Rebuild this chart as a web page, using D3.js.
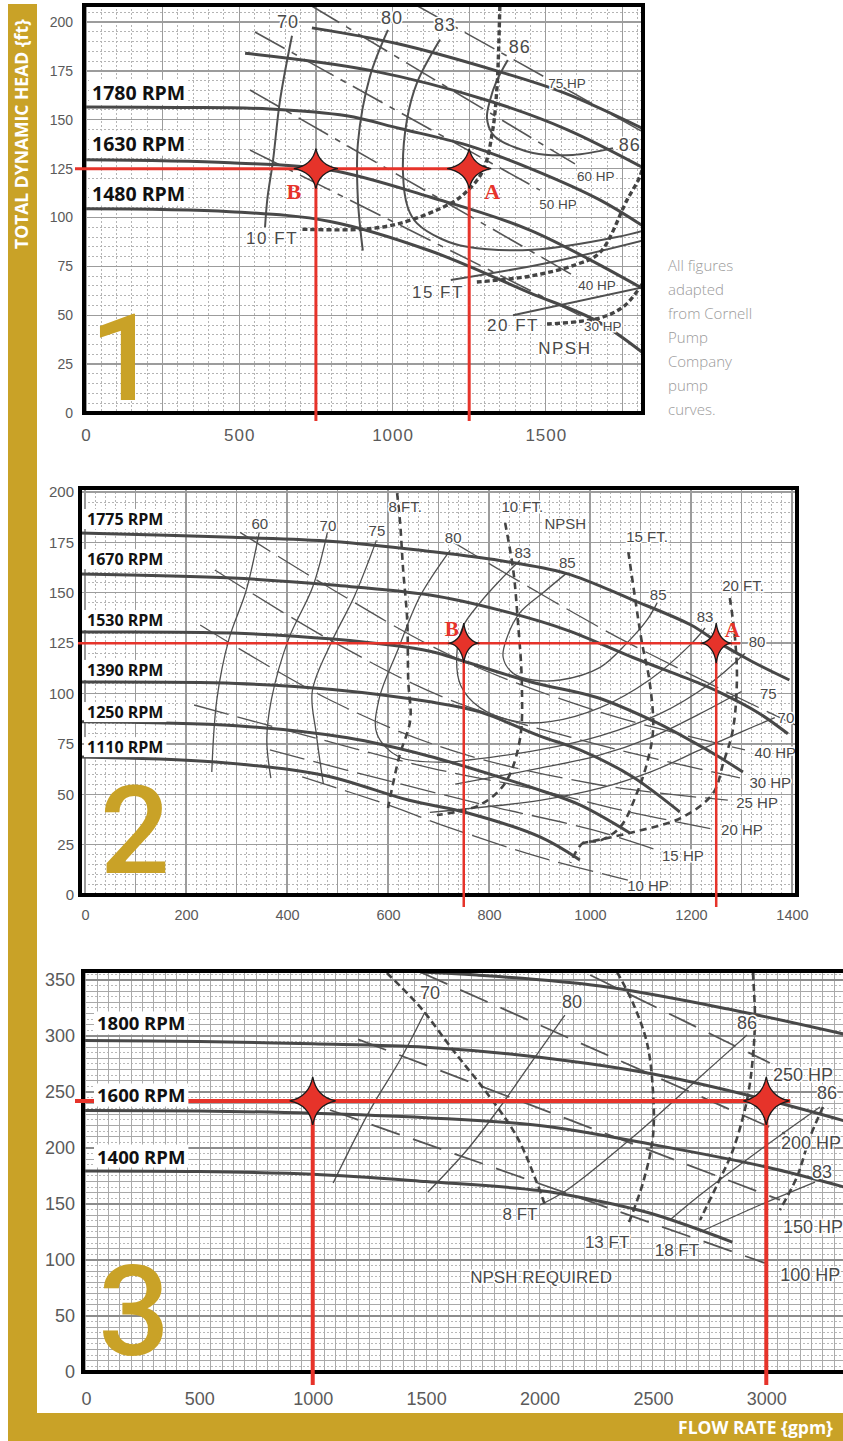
<!DOCTYPE html>
<html><head><meta charset="utf-8">
<script src="https://cdn.jsdelivr.net/npm/d3@7"></script>
<style>html,body{margin:0;padding:0;background:#fff}svg{display:block}</style>
</head><body>
<svg id="c" width="843" height="1441"></svg>
<script>
// ================= DATA =================
// ---- Panel 1 (flow gpm, head ft) ----
const p1FlowTicks = [0, 500, 1000, 1500];
const p1HeadTicks = [0, 25, 50, 75, 100, 125, 150, 175, 200];
const p1RpmNames = ["1780 RPM", "1630 RPM", "1480 RPM"];
const p1RpmLabelHead = [164, 138, 112.5];
const p1Rpm1780 = [[-6,156.5],[300,156.3],[600,155.5],[850,152],[1024,145.5],[1243,137],[1458,124.5],[1676,109],[1823,95]];
const p1Rpm1630 = [[-6,129.5],[470,128],[796,124.3],[1122,110.5],[1448,93.6],[1823,63]];
const p1Rpm1480 = [[-6,104.5],[470,103],[796,98],[1122,83],[1448,61.5],[1667,47],[1823,30]];
const p1HeadTop = [[737,197],[1014,189],[1340,175],[1556,164],[1823,145]];
const p1HeadUpper = [[519,184],[936,175],[1308,160],[1569,145],[1823,125]];
const p1Eff70 = [[672,193],[633,160],[610,129],[592,110],[584,95]];
const p1Eff80 = [[985,196],[926,172],[887,138],[887,109],[903,83]];
const p1Eff83 = [[1155,191],[1080,169],[1047,150],[1034,123],[1050,105],[1080,97],[1160,89],[1243,85],[1458,83.5],[1732,90],[1823,93.5]];
const p1Eff86 = [[1376,180.6],[1340,170],[1318,160],[1308,151],[1325,143],[1350,139.5],[1458,133],[1588,132],[1719,135.5]];
const p1Eff80R = [[1190,68],[1513,77],[1823,88.5]];
const p1Eff70R = [[1393,50],[1823,64.5]];
const p1Npsh10 = [[1350,208],[1345,181],[1340,165],[1327,145],[1295,124],[1240,113],[1187,107],[1024,97],[900,94],[700,94]];
const p1Npsh15 = [[1275,67],[1448,70],[1600,76],[1676,82],[1765,109],[1807,121],[1823,130]];
const p1Npsh20 = [[1504,45.5],[1676,48.6],[1758,55],[1823,68]];
const p1Hp75 = [[1076,208.7],[1823,143.2]];
const p1Hp60 = [[731,208.7],[1595,127.4]];
const p1Hp50 = [[551,194.9],[1481,114]];
const p1Hp40 = [[535,165.2],[1605,69]];
const p1Hp30 = [[535,134.5],[1628,48.6]];
const p1EffLabels = [["70",659,200],["80",998,202],["83",1171,198.5],["86",1415,187.2],["86",1774,137]];
const p1HpLabels = [["75 HP",1569,168.8],["60 HP",1663,121.2],["50 HP",1540,106.9],["40 HP",1667,65],["30 HP",1686,44.5]];
const p1NpshLabels = [["10 FT",607,89.5],["15 FT",1148,61.4],["20 FT",1393,45],["NPSH",1562,33.2]];
const p1PointA = [1250, 125];
const p1PointB = [750, 125];

// ---- Panel 2 ----
const p2FlowTicks = [0, 200, 400, 600, 800, 1000, 1200, 1400];
const p2HeadTicks = [0, 25, 50, 75, 100, 125, 150, 175, 200];
const p2RpmNames = ["1775 RPM", "1670 RPM", "1530 RPM", "1390 RPM", "1250 RPM", "1110 RPM"];
const p2RpmLabelHead = [186.6, 166.7, 136.5, 111.7, 90.8, 73.4];
const p2Rpm1775 = [[-10,179.7],[293,177.5],[491,175.5],[683,170.5],[821,166],[954,159.5],[1084,146.5],[1200,134],[1250,126],[1320,116],[1395,106.7]];
const p2Rpm1670 = [[-10,159.3],[293,157.3],[491,153.8],[683,148.9],[821,141.4],[954,131.5],[1084,118],[1217,105],[1256,100.7],[1333,90.5],[1392,80]];
const p2Rpm1530 = [[-10,130.5],[293,130],[491,127],[683,121],[756,115.5],[887,105.5],[1014,98],[1128,86],[1204,76],[1256,68.5],[1303,61]];
const p2Rpm1390 = [[-10,105.7],[300,105],[490,102],[680,96],[780,91],[900,79],[980,72],[1085,58.6],[1178,41.2]];
const p2Rpm1250 = [[-10,86],[300,84],[520,78],[680,69],[840,57],[901,52],[980,44.7],[1079,30.8]];
const p2Rpm1110 = [[-10,68.5],[258,66],[470,59.6],[642,47],[758,40.7],[901,28.8],[980,17.4]];
const p2Eff60 = [[345,180],[319,151],[285,127],[261,97],[251,61]];
const p2Eff70 = [[480,180],[451,153],[403,127],[369,97],[360,77],[368,58]];
const p2Eff75 = [[577,176],[533,148],[487,125],[450,101],[458,80],[472,55]];
const p2Eff80 = [[723,171],[663,148],[620,122],[582,97],[578,80],[622,68.5],[717,66],[760,67],[899,72],[1020,79],[1139,90],[1238,105],[1307,120]];
const p2Eff83 = [[861,166],[821,156],[782,145],[748,133],[736,118],[744,104],[782,93],[856,86],[921,86],[1020,93],[1119,107],[1198,124],[1228,132.5]];
const p2Eff85 = [[955,160],[907,150],[861,140],[836,128],[828,118],[848,110],[887,106.7],[941,106.7],[1020,113],[1073,125],[1113,136.5],[1133,145]];
const p2Eff75R = [[733,55],[901,63],[1014,69],[1119,78],[1218,90],[1300,101]];
const p2Eff70R = [[683,41],[901,47],[1020,53],[1119,61],[1218,72],[1300,81],[1366,88]];
const p2Npsh8 = [[618,199.5],[624,184.6],[630,161.3],[638,136.5],[640,106.7],[644,86.8],[622,68.5],[600,43.2]];
const p2Npsh10 = [[832,184.6],[848,161.3],[857,136.5],[865,105.2],[861,76.9],[832,55.6],[782,44.7],[697,39.7]];
const p2Npsh15 = [[1076,170.2],[1089,147.9],[1103,125.1],[1118,106],[1125,82],[1113,65.5],[1093,50.6],[1060,33.7],[1020,27],[986,25.8],[961,16]];
const p2Npsh20 = [[1277,147.4],[1287,128],[1291,106.7],[1283,82],[1264,65.5],[1244,50.6],[1184,38.7],[1079,30.8],[986,25.8]];
const p2Hp50 = [[723,176],[1054,128],[1410,84]];
const p2Hp40 = [[307,180],[485,152.4],[723,119],[1020,90.8],[1307,72]];
const p2Hp30 = [[257,161.3],[485,126.6],[723,96.8],[1020,74.4],[1297,58.1]];
const p2Hp25 = [[228,134],[485,96.8],[723,72],[1020,54.6],[1273,47.1]];
const p2Hp20 = [[216,94.3],[471,76.9],[685,63],[899,52.1],[1060,42.2],[1252,32.3]];
const p2Hp15 = [[366,72],[578,58.1],[792,44.7],[1006,32.3],[1145,21.3]];
const p2Hp10 = [[430,58.6],[600,44.7],[707,34.7],[899,18.9],[1075,7.4]];
const p2EffLabels = [["60",346,184.6],["70",481,183.6],["75",578,181],["80",729,177.2],["83",867,170.2],["85",955,164.8],["85",1135,149],["83",1228,138],["80",1331,125.6],["75",1353,100.2],["70",1388,88.3]];
const p2HpLabels = [["40 HP",1367,70.5],["30 HP",1357,56],["25 HP",1331,45.7],["20 HP",1301,32.3],["15 HP",1184,19.4],["10 HP",1115,4.5]];
const p2NpshLabels = [["8 FT.",634,192.6],["10 FT.",866,192.6],["NPSH",951,184.6],["15 FT.",1113,177.7],["20 FT.",1303,153.8]];
const p2PointA = [1250, 125];
const p2PointB = [750, 125];

// ---- Panel 3 ----
const p3FlowTicks = [0, 500, 1000, 1500, 2000, 2500, 3000];
const p3HeadTicks = [0, 50, 100, 150, 200, 250, 300, 350];
const p3RpmNames = ["1800 RPM", "1600 RPM", "1400 RPM"];
const p3RpmLabelHead = [311.6, 247.3, 192.8];
const p3Rpm1800 = [[-13,296],[500,295],[1000,293],[1500,290],[2000,281],[2500,266],[3000,243],[3400,221]];
const p3Rpm1600 = [[-13,233.5],[500,233],[1000,231],[1500,227],[2000,220],[2500,203],[3000,183],[3400,162]];
const p3Rpm1400 = [[-13,179.5],[500,179],[1000,176.5],[1500,170],[2000,162],[2250,153],[2500,141],[2850,116]];
const p3HeadTop = [[1473,357],[1724,354.4],[2267,344.6],[2853,323.2],[3400,299]];
const p3Eff70 = [[1495,321.4],[1385,278.5],[1253,234],[1090,168.7]];
const p3Eff80 = [[2112,318.7],[1971,278.5],[1826,236.6],[1680,198.2],[1508,160.7]];
const p3Eff86 = [[2915,300.9],[2708,263.4],[2412,209.8],[2121,162.5],[2002,149.1]];
const p3Eff86R = [[3237,236.6],[2972,198.2],[2708,158],[2575,135.7]];
const p3Eff83R = [[3215,169.6],[2972,149.1],[2708,125]];
const p3Npsh8 = [[1327,356.2],[1473,325.9],[1618,287.5],[1768,249.1],[1901,209.8],[1989,168.7],[2024,149]];
const p3Npsh13 = [[2342,357],[2412,329.4],[2474,293.7],[2500,251.8],[2500,209.8],[2456,168.7],[2390,131.2]];
const p3Npsh18 = [[2941,356.2],[2950,317],[2941,281.2],[2915,242.8],[2853,198.2],[2783,167],[2708,135.7]];
const p3NpshR = [[3250,236.6],[3193,209.8],[3135,174],[3060,144.6]];
const p3Hp250 = [[2223,354.4],[3016,275.9]];
const p3Hp200 = [[1473,357.1],[3083,212.5]];
const p3Hp150 = [[1200,297],[3060,153.6]];
const p3Hp100 = [[1076,233.9],[2994,97.3]];
const p3EffLabels = [["70",1517,338.4],["80",2143,330.3],["86",2915,311.6],["86",3268,249],["83",3246,178.6]];
const p3HpLabels = [["250 HP",3162,265.2],["200 HP",3197,204.4],["150 HP",3206,129.5],["100 HP",3194,86.6]];
const p3NpshLabels = [["8 FT",1914,140.2],["13 FT",2298,116],["18 FT",2606,108.9],["NPSH REQUIRED",2007,84.8]];
const p3PointA = [3000, 242];
const p3PointB = [1000, 242];

const noteLines = ["All figures", "adapted", "from Cornell", "Pump", "Company", "pump", "curves."];

// ================= DRAWING =================
const GOLD = "#C9A227";
const RED = "#e6332a";
const svg = d3.select("#c");

// gold L frame
svg.append("rect").attr("x", 8).attr("y", 4).attr("width", 29).attr("height", 1437).attr("fill", GOLD);
svg.append("rect").attr("x", 8).attr("y", 1413).attr("width", 835).attr("height", 28).attr("fill", GOLD);
svg.append("text").attr("transform", "translate(28,134) rotate(-90)")
  .attr("text-anchor", "middle").attr("fill", "#fff")
  .style("font-family", "'Open Sans', sans-serif").style("font-weight", 700).style("font-size", "17.5px")
  .text("TOTAL DYNAMIC HEAD {ft}");
svg.append("text").attr("x", 833).attr("y", 1434).attr("text-anchor", "end").attr("fill", "#fff")
  .style("font-family", "'Open Sans', sans-serif").style("font-weight", 700).style("font-size", "17.5px")
  .text("FLOW RATE {gpm}");

// note text
svg.append("g").selectAll("text").data(noteLines).join("text")
  .attr("x", 668).attr("y", (d, i) => 271 + i * 24)
  .attr("fill", "#9a9a9a")
  .style("font-family", "'Open Sans', sans-serif").style("font-weight", 300).style("font-size", "15px")
  .text(d => d);

function starPath(rx, ry) {
  const s = 0.16;
  return `M0,${-ry} Q${rx*s},${-ry*s} ${rx},0 Q${rx*s},${ry*s} 0,${ry} Q${-rx*s},${ry*s} ${-rx},0 Q${-rx*s},${-ry*s} 0,${-ry}Z`;
}

function drawPanel(c) {
  const x = d3.scaleLinear().domain(c.xDomain).range([c.frame.x0, c.frame.x1]);
  const y = d3.scaleLinear().domain(c.yDomain).range([c.frame.y1, c.frame.y0]);
  const g = svg.append("g");
  const clipId = "clip" + c.id;
  g.append("clipPath").attr("id", clipId).append("rect")
    .attr("x", c.frame.x0).attr("y", c.frame.y0)
    .attr("width", c.frame.x1 - c.frame.x0).attr("height", c.frame.y1 - c.frame.y0);

  // grid
  const gg = g.append("g").attr("clip-path", `url(#${clipId})`);
  c.grid.forEach(spec => {
    const dom = spec.axis === "x" ? c.xDomain : c.yDomain;
    const vals = d3.range(Math.ceil(dom[0] / spec.step) * spec.step, dom[1] + 0.001, spec.step);
    gg.append("g").selectAll("line").data(vals).join("line")
      .attr("x1", d => spec.axis === "x" ? x(d) : c.frame.x0)
      .attr("x2", d => spec.axis === "x" ? x(d) : c.frame.x1)
      .attr("y1", d => spec.axis === "x" ? c.frame.y0 : y(d))
      .attr("y2", d => spec.axis === "x" ? c.frame.y1 : y(d))
      .attr("stroke", spec.color).attr("stroke-width", spec.width)
      .attr("stroke-dasharray", spec.dash || null)
      .attr("shape-rendering", "crispEdges");
  });

  // big panel digit
  g.append("text").attr("x", c.digit.x).attr("y", c.digit.y).attr("text-anchor", "middle")
    .attr("fill", GOLD).style("font-family", "Roboto, sans-serif").style("font-weight", 500)
    .style("font-size", c.digit.size + "px").text(c.digit.t);

  const line = d3.line().x(d => x(d[0])).y(d => y(d[1])).curve(d3.curveCatmullRom.alpha(0.5));
  const cg = g.append("g").attr("clip-path", `url(#${clipId})`).attr("fill", "none").attr("stroke-linecap", "butt");
  c.hps.forEach(d => cg.append("path").attr("d", line(d)).attr("stroke", "#555").attr("stroke-width", c.st.hpW).attr("stroke-dasharray", c.st.hpDash));
  c.effs.forEach(d => cg.append("path").attr("d", line(d)).attr("stroke", "#505050").attr("stroke-width", c.st.effW));
  c.heads.forEach(d => cg.append("path").attr("d", line(d)).attr("stroke", "#484848").attr("stroke-width", c.st.headW));
  c.npsh.forEach(d => cg.append("path").attr("d", line(d)).attr("stroke", "#444").attr("stroke-width", c.st.npshW).attr("stroke-dasharray", c.st.npshDash));

  // curve labels
  const lab = (arr, size, ls) => g.append("g").selectAll("text").data(arr).join("text")
    .attr("x", d => x(d[1])).attr("y", d => y(d[2])).attr("text-anchor", "middle")
    .attr("dominant-baseline", "central").attr("fill", "#4a4a4a")
    .attr("stroke", "#fff").attr("stroke-width", 3).attr("paint-order", "stroke")
    .style("font-family", "'Liberation Sans', Arial, sans-serif").style("font-size", size + "px")
    .style("letter-spacing", ls + "px").text(d => d[0]);
  lab(c.effLabels, c.st.effFont, c.st.effLs);
  lab(c.hpLabels, c.st.hpFont, 0);
  lab(c.npshLabels, c.st.npshFont, c.st.npshLs);

  // axes
  const ya = g.append("g").attr("transform", `translate(${c.frame.x0},0)`)
    .call(d3.axisLeft(y).tickValues(c.yTicks).tickFormat(d3.format("d")).tickSize(0).tickPadding(c.ax.yPad));
  ya.select(".domain").remove();
  ya.selectAll("text").attr("fill", "#5a5a5a").style("font-family", "'Liberation Sans', Arial, sans-serif").style("font-size", c.ax.yFont + "px");
  const xa = g.append("g").attr("transform", `translate(0,${c.frame.y1})`)
    .call(d3.axisBottom(x).tickValues(c.xTicks).tickFormat(d3.format("d")).tickSize(0).tickPadding(c.ax.xPad));
  xa.select(".domain").remove();
  xa.selectAll("text").attr("fill", "#5a5a5a").style("font-family", "'Liberation Sans', Arial, sans-serif")
    .style("font-size", c.ax.xFont + "px").style("letter-spacing", c.ax.xLs + "px");

  // frame
  g.append("rect").attr("x", c.frame.x0).attr("y", c.frame.y0)
    .attr("width", c.frame.x1 - c.frame.x0).attr("height", c.frame.y1 - c.frame.y0)
    .attr("fill", "none").attr("stroke", "#000").attr("stroke-width", 4);

  // red operating lines
  const rg = g.append("g").attr("stroke", RED).attr("stroke-width", c.red.w);
  const yA = y(c.pointA[1]);
  rg.append("line").attr("x1", c.frame.x0 - c.red.left).attr("x2", x(c.pointA[0]) + c.red.right).attr("y1", yA).attr("y2", yA);
  [c.pointA, c.pointB].forEach(p => rg.append("line").attr("x1", x(p[0])).attr("x2", x(p[0])).attr("y1", y(p[1])).attr("y2", c.frame.y1 + c.red.below));
  [c.pointA, c.pointB].forEach(p => g.append("path").attr("d", starPath(c.red.rx, c.red.ry))
    .attr("transform", `translate(${x(p[0])},${y(p[1])})`)
    .attr("fill", RED).attr("stroke", "#1a1a1a").attr("stroke-width", 1.3));
  if (c.red.letters) {
    const lt = (t, p, dx, dy) => g.append("text").attr("x", x(p[0]) + dx).attr("y", y(p[1]) + dy)
      .attr("text-anchor", "middle").attr("dominant-baseline", "central").attr("fill", RED)
      .style("font-family", "'Liberation Serif', 'Times New Roman', serif").style("font-weight", 700)
      .style("font-size", c.red.letterSize + "px").text(t);
    lt("A", c.pointA, c.red.aDx, c.red.aDy);
    lt("B", c.pointB, c.red.bDx, c.red.bDy);
  }

  // RPM labels with white boxes
  const rl = g.append("g");
  c.rpmNames.forEach((name, i) => {
    const t = rl.append("text").attr("x", c.frame.x0 + c.rpm.dx).attr("y", y(c.rpmHeads[i]))
      .attr("dominant-baseline", "central").attr("fill", "#111")
      .style("font-family", "'Open Sans', sans-serif").style("font-weight", 700)
      .style("font-size", c.rpm.size + "px").text(name);
    const bb = t.node().getBBox();
    rl.insert("rect", "text").attr("x", bb.x - 3).attr("y", bb.y + 1).attr("width", bb.width + 6).attr("height", bb.height - 2).attr("fill", "#fff");
  });
}

const gridStd = (xMin, xMaj, yMin, yMaj) => [
  {axis: "x", step: xMin, color: "#b4b4b4", width: 1, dash: "2,2"},
  {axis: "y", step: yMin, color: "#b4b4b4", width: 1, dash: "2,2"},
  {axis: "x", step: xMaj, color: "#9c9c9c", width: 1.3},
  {axis: "y", step: yMaj, color: "#9c9c9c", width: 1.3}
];

drawPanel({
  id: 1, frame: {x0: 84, x1: 643, y0: 5, y1: 413}, xDomain: [-6.5, 1817], yDomain: [0, 208.7],
  xTicks: p1FlowTicks, yTicks: p1HeadTicks,
  grid: gridStd(50, 250, 5, 25),
  digit: {t: "1", x: 124, y: 400, size: 120},
  heads: [p1HeadTop, p1HeadUpper, p1Rpm1780, p1Rpm1630, p1Rpm1480],
  effs: [p1Eff70, p1Eff80, p1Eff83, p1Eff86, p1Eff80R, p1Eff70R],
  hps: [p1Hp75, p1Hp60, p1Hp50, p1Hp40, p1Hp30],
  npsh: [p1Npsh10, p1Npsh15, p1Npsh20],
  effLabels: p1EffLabels, hpLabels: p1HpLabels, npshLabels: p1NpshLabels,
  st: {headW: 3, effW: 2, hpW: 1.6, hpDash: "34,8,6,8", npshW: 3.4, npshDash: "5,3", effFont: 18, effLs: 1, hpFont: 13.5, npshFont: 17, npshLs: 1.5},
  ax: {yPad: 11, yFont: 14, xPad: 16, xFont: 17, xLs: 1},
  pointA: p1PointA, pointB: p1PointB,
  red: {w: 3, left: 9, right: 20, below: 8, rx: 22, ry: 20, letters: true, letterSize: 22, aDx: 23, aDy: 23, bDx: -22, bDy: 23},
  rpmNames: p1RpmNames, rpmHeads: p1RpmLabelHead, rpm: {dx: 8, size: 19.5}
});

drawPanel({
  id: 2, frame: {x0: 80, x1: 797, y0: 488, y1: 895}, xDomain: [-10, 1410], yDomain: [0, 202],
  xTicks: p2FlowTicks, yTicks: p2HeadTicks,
  grid: gridStd(20, 100, 5, 25),
  digit: {t: "2", x: 135, y: 873, size: 123},
  heads: [p2Rpm1775, p2Rpm1670, p2Rpm1530, p2Rpm1390, p2Rpm1250, p2Rpm1110],
  effs: [p2Eff60, p2Eff70, p2Eff75, p2Eff80, p2Eff83, p2Eff85, p2Eff75R, p2Eff70R],
  hps: [p2Hp50, p2Hp40, p2Hp30, p2Hp25, p2Hp20, p2Hp15, p2Hp10],
  npsh: [p2Npsh8, p2Npsh10, p2Npsh15, p2Npsh20],
  effLabels: p2EffLabels, hpLabels: p2HpLabels, npshLabels: p2NpshLabels,
  st: {headW: 3, effW: 1.3, hpW: 1.3, hpDash: "36,9", npshW: 2.6, npshDash: "7,5", effFont: 15, effLs: 0, hpFont: 15, npshFont: 15, npshLs: 0},
  ax: {yPad: 6, yFont: 15, xPad: 15, xFont: 14.5, xLs: 0},
  pointA: p2PointA, pointB: p2PointB,
  red: {w: 2.5, left: 2, right: 24, below: 12, rx: 14, ry: 20, letters: true, letterSize: 21, aDx: 16, aDy: -13, bDx: -12, bDy: -14},
  rpmNames: p2RpmNames, rpmHeads: p2RpmLabelHead, rpm: {dx: 7, size: 16}
});

drawPanel({
  id: 3, frame: {x0: 83, x1: 857, y0: 971, y1: 1372}, xDomain: [-13, 3400], yDomain: [0, 358],
  xTicks: p3FlowTicks, yTicks: p3HeadTicks,
  grid: [
    {axis: "y", step: 5, color: "#b8b8b8", width: 1, dash: "2,2"},
    {axis: "x", step: 50, color: "#ababab", width: 1},
    {axis: "y", step: 10, color: "#a8a8a8", width: 1},
    {axis: "y", step: 50, color: "#8c8c8c", width: 1.5}
  ],
  digit: {t: "3", x: 134, y: 1355, size: 126},
  heads: [p3HeadTop, p3Rpm1800, p3Rpm1600, p3Rpm1400],
  effs: [p3Eff70, p3Eff80, p3Eff86, p3Eff86R, p3Eff83R],
  hps: [p3Hp250, p3Hp200, p3Hp150, p3Hp100],
  npsh: [p3Npsh8, p3Npsh13, p3Npsh18, p3NpshR],
  effLabels: p3EffLabels, hpLabels: p3HpLabels, npshLabels: p3NpshLabels,
  st: {headW: 3, effW: 1.3, hpW: 1.8, hpDash: "30,14", npshW: 2.6, npshDash: "7,4", effFont: 18, effLs: 0, hpFont: 18, npshFont: 17, npshLs: 0},
  ax: {yPad: 8, yFont: 18, xPad: 20, xFont: 18, xLs: 0},
  pointA: p3PointA, pointB: p3PointB,
  red: {w: 4, left: 8, right: 24, below: 13, rx: 23, ry: 24, letters: false},
  rpmNames: p3RpmNames, rpmHeads: p3RpmLabelHead, rpm: {dx: 14, size: 18.5}
});
</script>
</body></html>
